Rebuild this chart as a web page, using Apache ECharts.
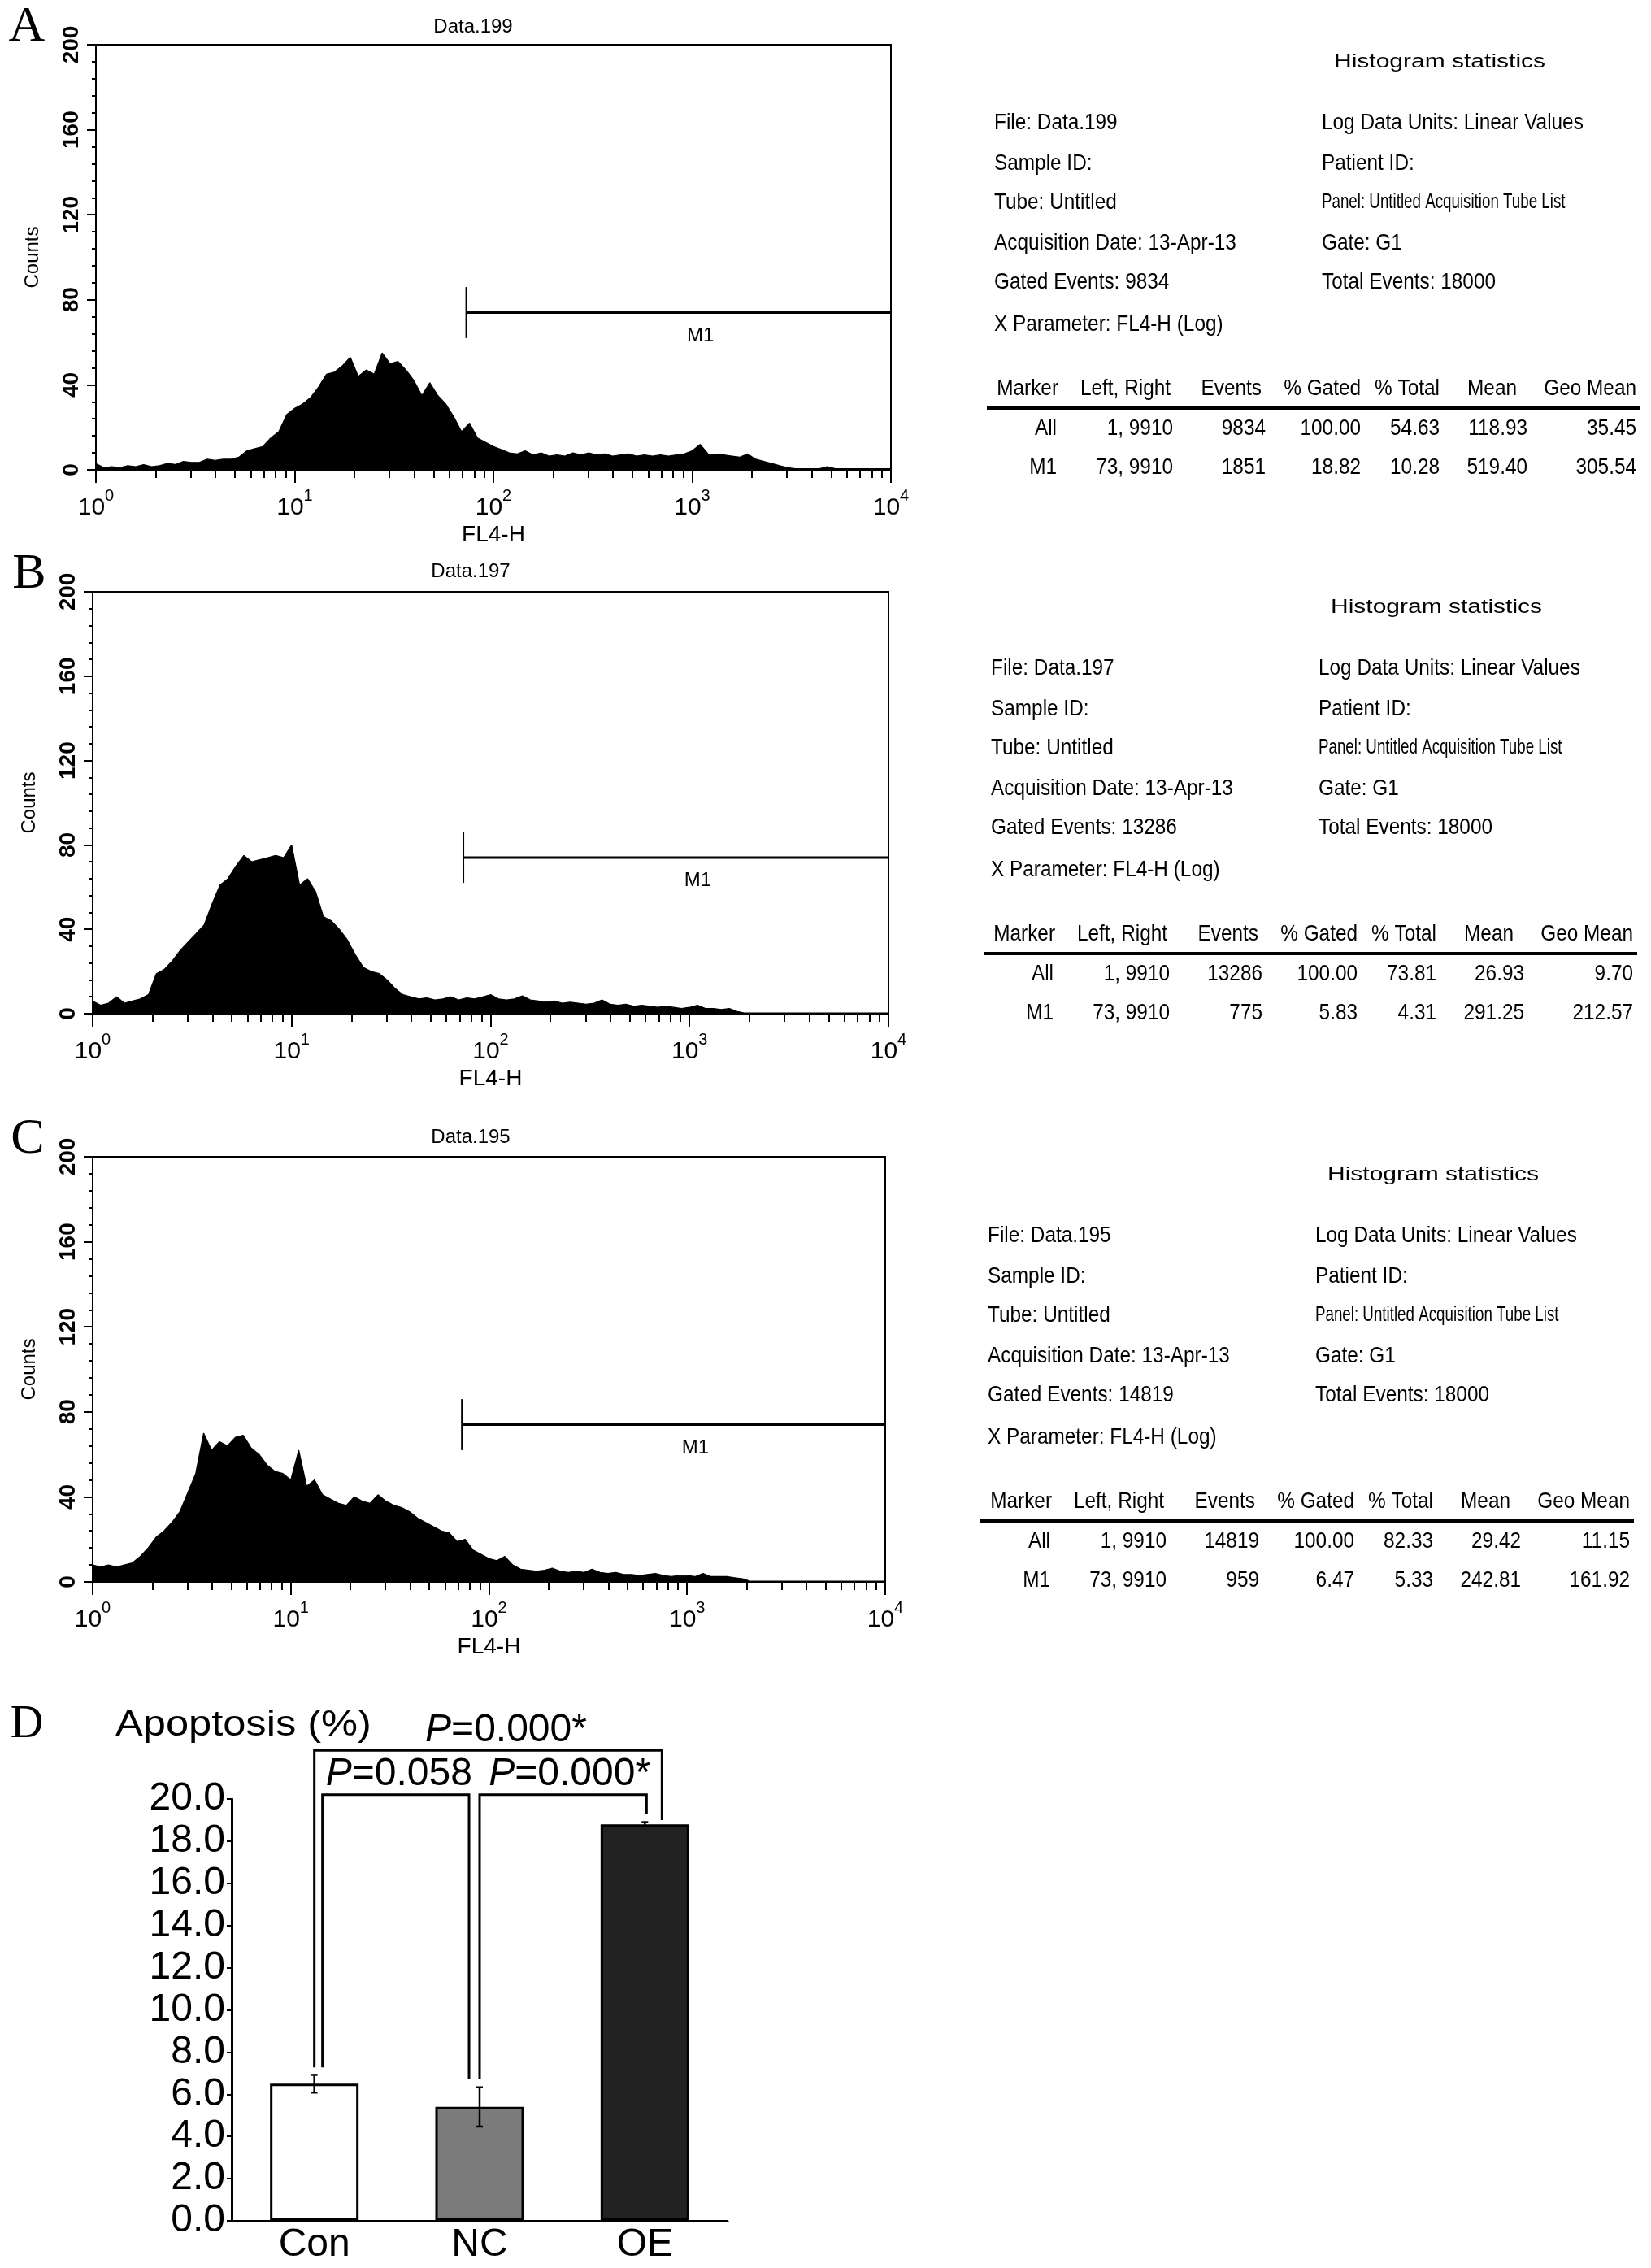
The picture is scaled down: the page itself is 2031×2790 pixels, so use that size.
<!DOCTYPE html>
<html><head><meta charset="utf-8">
<script src="https://cdn.jsdelivr.net/npm/echarts@6/dist/echarts.min.js"></script>
<style>html,body{margin:0;padding:0;background:#fff}#c{width:2031px;height:2790px}</style>
</head><body><div id="c"></div>
<script>
// ---------------- DATA ----------------
const LOG_STEP = 0.04; // width of one histogram bin, in decades (bin k sits at 10^(k*LOG_STEP))
const countsA = [3,1,1.5,1,2,1.5,2.5,1.5,2,3,2.5,4,3.5,3.5,5,4.5,5,5,6,9,10,11,15,18,26,29,31,34,39,45,46,49,53,44,47,45,55,50,51,47,42,35,41,35,31,25,18,22,15,13,11,9.5,8,7.5,9,7,8,6.5,7,6.5,8,7,8,7,7.5,6.5,7,7.5,6.5,7,6.5,7,6.5,7,7.5,9,12,7.5,7,7,6.5,6,7.5,5,4,3,2,1,0.5,0.5,0.5,0.5,1.5,0.5,0.5,0.5,0.5,0.5,0.5,0.5,0.5];
const countsB = [6,4,5,8,5,6,7,9,19,21,25,30,34,38,42,52,61,64,70,75,72,73,74,75,74,80,61,64,58,46,44,40,35,28,22,20,19,16,12,9,8,7,7.5,6.5,7,8,6.5,7.5,7,8,9,7,6.5,7,8.5,6.5,6,5.5,6,5,5.5,5,4.5,5,6.5,4.5,4,4.5,3.5,4,3.5,3,3.5,3,2.5,3,4,2.5,2.5,2,2.5,1,0.3,0.3,0.3,0.3,0.3,0.3,0.3,0.3,0.3,0.3,0.3,0.3,0.3,0.3,0.3,0.3,0.3,0.3,0.3];
const countsC = [8,7,8,7,8,9,12,16,21,24,28,33,42,51,70,62,66,64,68,69,63,60,55,52,51,48,62,45,48,41,39,37,36,40,38,37,41,38,36,35,33,30,28,26,24,23,19,20,15,13,11,10,12,8,6,5.5,5,5.5,6.5,5,4.5,5,4.5,6,4.5,4,4.5,3.5,3.5,3,3.5,4,3,2.5,3,3,2.5,4,2.5,2.5,2.5,2,1.5,0.3,0.3,0.3,0.3,0.3,0.3,0.3,0.3,0.3,0.3,0.3,0.3,0.3,0.3,0.3,0.3,0.3,0.3];
const histCounts = [countsA, countsB, countsC];
const panelLetters = ['A', 'B', 'C'];
const fileNames = ['Data.199', 'Data.197', 'Data.195'];
const gatedEvents = ['9834', '13286', '14819'];
const totalEvents = '18000';
const acquisitionDate = '13-Apr-13';
const markerRange = [73, 9910];   // M1 left, right
const markerLevel = 74;           // counts level of the M1 bar
const decadeTicks = [1, 10, 100, 1000, 10000];
const yTicksCounts = [0, 200, 40];  // min, max, interval
const statHeaders = ['Marker', 'Left, Right', 'Events', '% Gated', '% Total', 'Mean', 'Geo Mean'];
const statRowsA = [['All', '1, 9910', '9834', '100.00', '54.63', '118.93', '35.45'],
                   ['M1', '73, 9910', '1851', '18.82', '10.28', '519.40', '305.54']];
const statRowsB = [['All', '1, 9910', '13286', '100.00', '73.81', '26.93', '9.70'],
                   ['M1', '73, 9910', '775', '5.83', '4.31', '291.25', '212.57']];
const statRowsC = [['All', '1, 9910', '14819', '100.00', '82.33', '29.42', '11.15'],
                   ['M1', '73, 9910', '959', '6.47', '5.33', '242.81', '161.92']];
const statRows = [statRowsA, statRowsB, statRowsC];

const apoCategories = ['Con', 'NC', 'OE'];
const apoMeans = [6.5, 5.4, 18.8];
const apoErrors = [0.42, 0.93, 0.1];
const apoTicks = [0, 20, 2];
// [groupA, groupB, legA bottom, bracket top, legB bottom]
const brackets = [[0, 1, 7.27, 20.2, 6.73], [1, 2, 6.73, 20.2, 19.3], [0, 2, 7.27, 22.3, 19.0]];
const pLabels = ['=0.058', '=0.000*', '=0.000*'];

// ---------------- LAYOUT / STYLE ----------------
const ARIAL = "'Liberation Sans', Arial, Helvetica, sans-serif";
const NARROW = "'Liberation Sans Narrow', 'Arial Narrow', 'Liberation Sans', sans-serif";
const SERIF = "'Liberation Serif', 'Times New Roman', serif";
const HIST_GRID = [{left: 118, top: 55, width: 978, height: 523},
                   {left: 114, top: 728, width: 979, height: 519},
                   {left: 114, top: 1423, width: 975, height: 523}];
const TITLE_POS = [[582, 33], [579, 703], [579, 1399]];
const LETTER_POS = [[33, 34], [36, 707], [34, 1402]];
const PANEL_DY = [0, 671, 1369], PANEL_DX = [0, -4, -8];
const BRACKET_DX = [[10, -13], [0, 2], [0, 21]];
const BRACKET_LABEL_DX = [4, 8, 22];
const BAR_COLORS = ['#ffffff', '#7b7b7b', '#222222'];

function txt(x, y, text, size, o) {
  o = o || {};
  const al = o.align || 'left';
  return {type: 'text', x: x, y: y, scaleX: o.sx || 1, silent: true, z: 10,
    style: {text: text, font: (o.italic ? 'italic ' : 'normal ') + (o.weight || 'normal') + ' ' + size + 'px ' + (o.family || ARIAL),
      fill: '#000', textAlign: al, align: al, textVerticalAlign: 'middle', verticalAlign: 'middle'}};
}

const minorTickValues = [];
for (let d = 1; d < 10000; d *= 10) for (let k = 2; k <= 9; k++) minorTickValues.push(k * d);

const grids = [], xAxes = [], yAxes = [], series = [], graphics = [];

histCounts.forEach(function (counts, i) {
  grids.push(Object.assign({show: true, borderColor: '#000', borderWidth: 2, backgroundColor: 'transparent'}, HIST_GRID[i]));
  xAxes.push({type: 'log', logBase: 10, gridIndex: i, min: 1, max: 10000, position: 'bottom',
    name: 'FL4-H', nameLocation: 'middle', nameGap: 66,
    nameTextStyle: {fontSize: 28, fontFamily: NARROW, color: '#000'},
    axisLine: {show: true, onZero: false, lineStyle: {color: '#000', width: 2}},
    axisTick: {show: true, length: 16, customValues: decadeTicks, lineStyle: {color: '#000', width: 2}},
    axisLabel: {show: true, customValues: decadeTicks, margin: 22, color: '#000',
      formatter: function (v) { return '{b|10}{s|' + Math.round(Math.log10(v)) + '}'; },
      rich: {b: {fontSize: 30, fontFamily: NARROW, color: '#000', verticalAlign: 'bottom', lineHeight: 40},
             s: {fontSize: 20, fontFamily: NARROW, color: '#000', verticalAlign: 'top', lineHeight: 40}}},
    splitLine: {show: false}});
  xAxes.push({type: 'log', logBase: 10, gridIndex: i, min: 1, max: 10000, position: 'bottom',
    axisLine: {show: false, onZero: false},
    axisTick: {show: true, length: 10, customValues: minorTickValues, lineStyle: {color: '#000', width: 2}},
    axisLabel: {show: false}, splitLine: {show: false}});
  yAxes.push({type: 'value', gridIndex: i, min: yTicksCounts[0], max: yTicksCounts[1], interval: yTicksCounts[2],
    name: 'Counts', nameLocation: 'middle', nameGap: 66, nameRotate: 90,
    nameTextStyle: {fontSize: 24, fontFamily: ARIAL, color: '#000'},
    axisLine: {show: true, lineStyle: {color: '#000', width: 2}},
    axisTick: {show: true, length: 11, lineStyle: {color: '#000', width: 2}},
    minorTick: {show: true, splitNumber: 5, length: 5, lineStyle: {color: '#000', width: 2}},
    axisLabel: {rotate: 90, fontSize: 28, fontWeight: 'bold', fontFamily: ARIAL, color: '#000', margin: 16},
    splitLine: {show: false}});
  series.push({type: 'line', xAxisIndex: 2 * i, yAxisIndex: i, silent: true, animation: false,
    symbol: 'none', lineStyle: {color: '#000', width: 1.2}, areaStyle: {color: '#000', opacity: 1},
    data: counts.map(function (c, k) { return [Math.pow(10, k * LOG_STEP), c]; })});
  series.push({type: 'custom', xAxisIndex: 2 * i, yAxisIndex: i, silent: true, animation: false, clip: false,
    data: [[markerRange[0], markerRange[1], markerLevel]],
    renderItem: function (params, api) {
      const a = api.coord([api.value(0), api.value(2)]);
      const b = api.coord([api.value(1), api.value(2)]);
      const t = api.coord([api.value(0), api.value(2) + 12]);
      const u = api.coord([api.value(0), api.value(2) - 12]);
      const lab = api.coord([1100, api.value(2) - 11]);
      return {type: 'group', children: [
        {type: 'line', shape: {x1: a[0], y1: a[1], x2: b[0], y2: b[1]}, style: {stroke: '#000', lineWidth: 3}},
        {type: 'line', shape: {x1: t[0], y1: t[1], x2: u[0], y2: u[1]}, style: {stroke: '#000', lineWidth: 2}},
        {type: 'text', x: lab[0], y: lab[1], style: {text: 'M1', font: 'normal normal 24px ' + NARROW, fill: '#000',
          textAlign: 'center', align: 'center', textVerticalAlign: 'middle', verticalAlign: 'middle'}}
      ]};
    }});

  // titles and panel letters
  graphics.push(txt(TITLE_POS[i][0], TITLE_POS[i][1], fileNames[i], 24, {align: 'center', family: ARIAL}));
  graphics.push(txt(LETTER_POS[i][0], LETTER_POS[i][1], panelLetters[i], 62, {align: 'center', family: SERIF}));

  // statistics block
  const dy = PANEL_DY[i], dx = PANEL_DX[i];
  const T = {sx: 0.87, family: ARIAL};
  graphics.push(txt(1641 + dx, 76 + dy, 'Histogram statistics', 24, {sx: 1.25}));
  const leftLines = ['File: ' + fileNames[i], 'Sample ID:', 'Tube: Untitled', 'Acquisition Date: ' + acquisitionDate,
                     'Gated Events: ' + gatedEvents[i], 'X Parameter: FL4-H (Log)'];
  const rightLines = ['Log Data Units: Linear Values', 'Patient ID:', 'Panel: Untitled Acquisition Tube List', 'Gate: G1',
                      'Total Events: ' + totalEvents];
  const rowY = [151, 201, 249, 299, 347, 399];
  leftLines.forEach(function (s, r) { graphics.push(txt(1223 + dx, rowY[r] + dy, s, 28, T)); });
  rightLines.forEach(function (s, r) {
    if (r === 2) graphics.push(txt(1626 + dx, rowY[r] + dy, s, 25, {sx: 0.75}));
    else graphics.push(txt(1626 + dx, rowY[r] + dy, s, 28, T));
  });
  const headRight = [1302, 1440, 1552, 1674, 1771, 1866, 2013];
  const valRight = [1300, 1443, 1557, 1674, 1771, 1879, 2013];
  statHeaders.forEach(function (h, c) {
    graphics.push(txt(headRight[c] + dx, 478 + dy, h, 28, {sx: 0.87, align: 'right'}));
  });
  graphics.push({type: 'line', silent: true, shape: {x1: 1214 + dx, y1: 502 + dy, x2: 2018 + dx, y2: 502 + dy},
    style: {stroke: '#000', lineWidth: 4}});
  statRows[i].forEach(function (row, r) {
    row.forEach(function (v, c) {
      graphics.push(txt(valRight[c] + dx, [527, 575][r] + dy, v, 28, {sx: 0.87, align: 'right'}));
    });
  });
});

// ---------------- PANEL D ----------------
grids.push({left: 285, top: 2213, width: 610, height: 519});
xAxes.push({type: 'category', gridIndex: 3, data: apoCategories,
  axisLine: {show: true, lineStyle: {color: '#000', width: 3}},
  axisTick: {show: false},
  axisLabel: {fontSize: 48, fontFamily: ARIAL, color: '#000', margin: 6}});
yAxes.push({type: 'value', gridIndex: 3, min: apoTicks[0], max: apoTicks[1], interval: apoTicks[2],
  axisLine: {show: true, lineStyle: {color: '#000', width: 3}},
  axisTick: {show: true, length: 6, lineStyle: {color: '#000', width: 2}},
  axisLabel: {fontSize: 48, fontFamily: ARIAL, color: '#000', margin: 8, formatter: function (v) { return v.toFixed(1); }},
  splitLine: {show: false}});
series.push({type: 'bar', xAxisIndex: 6, yAxisIndex: 3, barWidth: 109, silent: true, animation: false,
  data: apoMeans.map(function (m, k) { return {value: m, itemStyle: {color: BAR_COLORS[k], borderColor: '#000', borderWidth: 3}}; })});
series.push({type: 'custom', xAxisIndex: 6, yAxisIndex: 3, silent: true, animation: false, clip: false, z: 5,
  data: apoMeans.map(function (m, k) { return [k, m - apoErrors[k], m + apoErrors[k]]; }),
  renderItem: function (params, api) {
    const lo = api.coord([api.value(0), api.value(1)]);
    const hi = api.coord([api.value(0), api.value(2)]);
    const st = {stroke: '#000', lineWidth: 2.5};
    return {type: 'group', children: [
      {type: 'line', shape: {x1: lo[0], y1: lo[1], x2: hi[0], y2: hi[1]}, style: st},
      {type: 'line', shape: {x1: lo[0] - 4, y1: lo[1], x2: lo[0] + 4, y2: lo[1]}, style: st},
      {type: 'line', shape: {x1: hi[0] - 4, y1: hi[1], x2: hi[0] + 4, y2: hi[1]}, style: st}
    ]};
  }});
series.push({type: 'custom', xAxisIndex: 6, yAxisIndex: 3, silent: true, animation: false, clip: false, z: 6,
  data: brackets,
  renderItem: function (params, api) {
    const i = params.dataIndex;
    const pA = api.coord([api.value(0), api.value(2)]);
    const pT = api.coord([api.value(0), api.value(3)]);
    const pB = api.coord([api.value(1), api.value(4)]);
    const xA = pA[0] + BRACKET_DX[i][0], xB = pB[0] + BRACKET_DX[i][1], yT = pT[1];
    return {type: 'group', children: [
      {type: 'polyline', shape: {points: [[xA, pA[1]], [xA, yT], [xB, yT], [xB, pB[1]]]},
        style: {stroke: '#000', lineWidth: 3, fill: null}},
      {type: 'text', x: (xA + xB) / 2 + BRACKET_LABEL_DX[i], y: yT - 1,
        style: {text: '{i|P}{n|' + pLabels[i] + '}', textAlign: 'center', align: 'center',
          textVerticalAlign: 'bottom', verticalAlign: 'bottom', fill: '#000',
          rich: {i: {fontSize: 48, fontStyle: 'italic', fontFamily: ARIAL, fill: '#000', color: '#000'},
                 n: {fontSize: 48, fontFamily: ARIAL, fill: '#000', color: '#000'}}}}
    ]};
  }});
graphics.push(txt(33, 2122, 'D', 56, {align: 'center', family: SERIF}));
graphics.push(txt(142, 2123, 'Apoptosis (%)', 44, {sx: 1.15}));

const chart = echarts.init(document.getElementById('c'), null, {renderer: 'canvas'});
chart.setOption({
  backgroundColor: '#ffffff',
  animation: false,
  grid: grids, xAxis: xAxes, yAxis: yAxes, series: series,
  graphic: {elements: graphics}
});
</script></body></html>
